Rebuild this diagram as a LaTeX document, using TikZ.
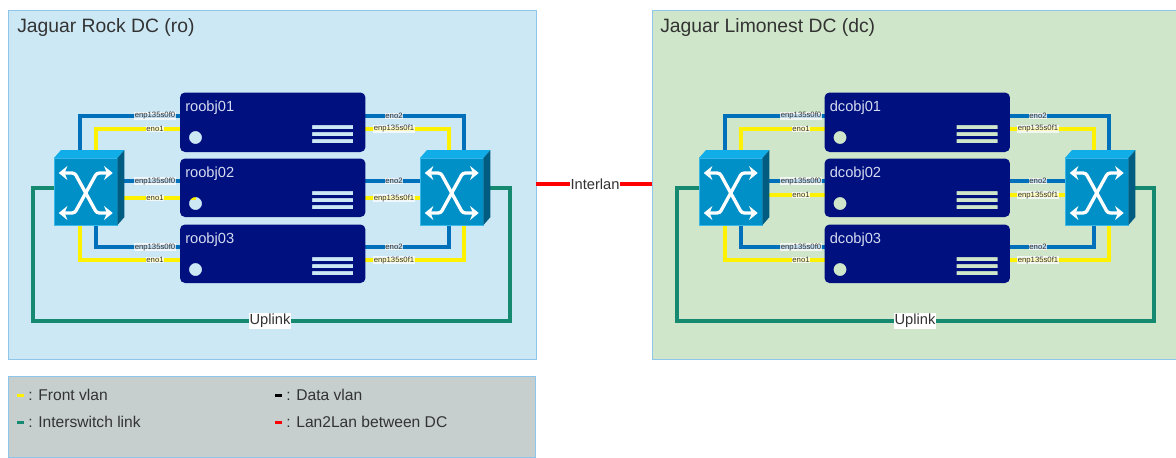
\documentclass[tikz,border=0pt]{standalone}
\usepackage{fontspec}
\setmainfont{Liberation Sans}
\usetikzlibrary{arrows.meta}
\definecolor{pnlA}{HTML}{CDE8F5}
\definecolor{pnlB}{HTML}{CFE6CA}
\definecolor{pnlBorder}{HTML}{8EC5EB}
\definecolor{lgdFill}{HTML}{C6CFCE}
\definecolor{srvFill}{HTML}{00107F}
\definecolor{srvText}{HTML}{D5DBEF}
\definecolor{swFront}{HTML}{0090C8}
\definecolor{swTop}{HTML}{10ADE8}
\definecolor{swSide}{HTML}{005C80}
\definecolor{swEdge}{HTML}{3CB8E8}
\definecolor{lnBlue}{HTML}{0070BA}
\definecolor{lnGreen}{HTML}{168A70}
\definecolor{txt}{HTML}{333333}
\pgfdeclarelayer{panels}
\pgfdeclarelayer{back}
\pgfsetlayers{panels,back,main}
\newcommand{\lgdash}[1]{{\color{#1}\rule[2.8pt]{5pt}{2pt}}}
\tikzset{
  panelbox/.style={draw=pnlBorder,line width=0.75pt,anchor=north west,inner sep=0pt,outer sep=0pt},
  title/.style={anchor=west,font=\fontsize{14.5pt}{16pt}\selectfont,text=txt,inner sep=0pt},
  srvbox/.style={anchor=north west,inner sep=0pt,outer sep=0pt,minimum width=139.1pt},
  srvname/.style={anchor=west,font=\fontsize{11pt}{13pt}\selectfont,text=srvText,inner sep=0pt},
  holemark/.style={circle,inner sep=0pt,outer sep=0pt,minimum size=9.75pt},
  swbox/.style={draw=swEdge,line width=0.5pt,fill=swFront,anchor=north west,inner sep=0pt,outer sep=0pt,minimum width=47.6pt,minimum height=50.25pt},
  swicon/.style={draw=white,line width=2.5pt,rounded corners=2pt,{Stealth[length=6.5pt,width=10.5pt]}-{Stealth[length=6.5pt,width=10.5pt]}},
  bluelink/.style={draw=lnBlue,line width=2.6pt},
  yellowlink/.style={draw=yellow,line width=2.6pt},
  greenlink/.style={draw=lnGreen,line width=2.6pt},
  redlink/.style={draw=red,line width=2.6pt},
  portlbl/.style={font=\fontsize{5.8pt}{6pt}\selectfont,text=txt,fill=white,fill opacity=0.75,text opacity=1,inner sep=0.4pt},
  linklbl/.style={font=\fontsize{11pt}{13pt}\selectfont,text=txt,fill=white,inner sep=0.6pt},
  legendtxt/.style={anchor=west,font=\fontsize{11.7pt}{13pt}\selectfont,text=txt,inner sep=0pt},
}
\newcommand{\srvunit}[5]{% name, label, x, ytop, height
  \node[srvbox,minimum height=#5*0.75pt] (#1) at (#3,#4) {};
  \fill[srvFill,even odd rule,rounded corners=3.75pt]
    (#1.north west) rectangle (#1.south east)
    [sharp corners]
    ([shift={(132,32.5)}]#1.north west) rectangle ++(41,4.2)
    ([shift={(132,39.5)}]#1.north west) rectangle ++(41,4.2)
    ([shift={(132,46.5)}]#1.north west) rectangle ++(41,4.2)
    ([shift={(15.5,45)}]#1.north west) circle[radius=6.5];
  \node[holemark] (#1hole) at ([shift={(15.5,45)}]#1.north west) {};
  \node[srvname] (#1name) at ([shift={(5,15)}]#1.north west) {#2};
}
\newcommand{\swunit}[2]{% name, x
  \node[swbox] (#1) at (#2,158) {};
  \fill[swTop] (#1.north west) -- ++(7,-8) -- ++(63.5,0) -- (#1.north east) -- cycle;
  \fill[swSide] (#1.north east) -- ++(7,-8) -- ++(0,67) -- (#1.south east) -- cycle;
  \begin{scope}[shift={(#1.center)}]
    \draw[swicon] (-27,-18.5) -- (-11,-18.5) -- (11,21.5) -- (27,21.5);
    \draw[swicon] (-27,21.5) -- (-11,21.5) -- (11,-18.5) -- (27,-18.5);
  \end{scope}
}
\begin{document}
\begin{tikzpicture}[x=0.75pt,y=-0.75pt]
\useasboundingbox (0,0) rectangle (1176,457);
\begin{pgfonlayer}{panels}
  \node[panelbox,fill=pnlA,minimum width=528*0.75pt,minimum height=349*0.75pt] (panelRo) at (8,10) {};
  \node[panelbox,fill=pnlB,minimum width=524*0.75pt,minimum height=349*0.75pt] (panelDc) at (652,10) {};
  \node[panelbox,fill=lgdFill,minimum width=527*0.75pt,minimum height=81*0.75pt] (panelLegend) at (8,376) {};
\end{pgfonlayer}
\node[title] (titleRo) at (17,27) {Jaguar Rock DC (ro)};
\node[title] (titleDc) at (660,27) {Jaguar Limonest DC (dc)};

% servers
\srvunit{roobj01}{roobj01}{180}{92.5}{59.5}
\srvunit{roobj02}{roobj02}{180}{158.5}{58.5}
\srvunit{roobj03}{roobj03}{180}{224.5}{58.5}
\srvunit{dcobj01}{dcobj01}{824.5}{92.5}{59.5}
\srvunit{dcobj02}{dcobj02}{824.5}{158.5}{58.5}
\srvunit{dcobj03}{dcobj03}{824.5}{224.5}{58.5}

% switches
\swunit{swRoL}{54}
\swunit{swRoR}{420}
\swunit{swDcL}{699}
\swunit{swDcR}{1065}

\begin{pgfonlayer}{back}
  % Rock, left switch
  \draw[bluelink] (swRoL.north -| 80,0) |- (roobj01.west |- 0,116);
  \draw[yellowlink] (swRoL.north -| 96,0) |- (roobj01.west |- 0,129);
  \draw[bluelink] (swRoL.east |- 0,181) -- (roobj02.west |- 0,181);
  \draw[yellowlink] (swRoL.east |- 0,198) -- (roobj02hole.center |- 0,198);
  \draw[yellowlink] (swRoL.south -| 80,0) |- (roobj03.west |- 0,260);
  \draw[bluelink] (swRoL.south -| 96,0) |- (roobj03.west |- 0,247);
  % Rock, right switch
  \draw[bluelink] (swRoR.north -| 464,0) |- (roobj01.east |- 0,116);
  \draw[yellowlink] (swRoR.north -| 449,0) |- (roobj01.east |- 0,129);
  \draw[bluelink] (swRoR.west |- 0,181) -- (roobj02.east |- 0,181);
  \draw[yellowlink] (swRoR.west |- 0,198) -- (roobj02.east |- 0,198);
  \draw[bluelink] (swRoR.south -| 449,0) |- (roobj03.east |- 0,247);
  \draw[yellowlink] (swRoR.south -| 464,0) |- (roobj03.east |- 0,260);
  % Limonest, left switch
  \draw[bluelink] (swDcL.north -| 725,0) |- (dcobj01.west |- 0,116);
  \draw[yellowlink] (swDcL.north -| 741,0) |- (dcobj01.west |- 0,129);
  \draw[bluelink] (swDcL.east |- 0,181) -- (dcobj02.west |- 0,181);
  \draw[yellowlink] (swDcL.east |- 0,195) -- (dcobj02hole.center |- 0,195);
  \draw[yellowlink] (swDcL.south -| 725,0) |- (dcobj03.west |- 0,260);
  \draw[bluelink] (swDcL.south -| 741,0) |- (dcobj03.west |- 0,247);
  % Limonest, right switch
  \draw[bluelink] (swDcR.north -| 1109,0) |- (dcobj01.east |- 0,116);
  \draw[yellowlink] (swDcR.north -| 1094,0) |- (dcobj01.east |- 0,129);
  \draw[bluelink] (swDcR.west |- 0,181) -- (dcobj02.east |- 0,181);
  \draw[yellowlink] (swDcR.west |- 0,195) -- (dcobj02.east |- 0,195);
  \draw[bluelink] (swDcR.south -| 1094,0) |- (dcobj03.east |- 0,247);
  \draw[yellowlink] (swDcR.south -| 1109,0) |- (dcobj03.east |- 0,260);
  % uplinks and interlan
  \draw[greenlink] (swRoL.west |- 0,188) -- (33,188) -- (33,321) -- (510,321) -- (510,188) -- (swRoR.east |- 0,188);
  \draw[greenlink] (swDcL.west |- 0,188) -- (677,188) -- (677,321) -- (1154,321) -- (1154,188) -- (swDcR.east |- 0,188);
  \draw[redlink] (panelRo.east |- 0,184) -- (panelDc.west |- 0,184);
\end{pgfonlayer}

% port labels
\foreach \xa/\xb/\ymid/\tag in {155/394/198/a,801/1038/195/b}{
  \node[portlbl] (pA\tag) at (\xa,116) {enp135s0f0};
  \node[portlbl] (pB\tag) at (\xa,129) {eno1};
  \node[portlbl] (pC\tag) at (\xa,181) {enp135s0f0};
  \node[portlbl] (pD\tag) at (\xa,\ymid) {eno1};
  \node[portlbl] (pE\tag) at (\xa,247) {enp135s0f0};
  \node[portlbl] (pF\tag) at (\xa,260) {eno1};
  \node[portlbl] (qA\tag) at (\xb,116) {eno2};
  \node[portlbl] (qB\tag) at (\xb,129) {enp135s0f1};
  \node[portlbl] (qC\tag) at (\xb,181) {eno2};
  \node[portlbl] (qD\tag) at (\xb,\ymid) {enp135s0f1};
  \node[portlbl] (qE\tag) at (\xb,247) {eno2};
  \node[portlbl] (qF\tag) at (\xb,260) {enp135s0f1};
}
\node[linklbl] (uplinkRo) at (270,321) {Uplink};
\node[linklbl] (uplinkDc) at (915,321) {Uplink};
\node[linklbl] (interlan) at (595,184) {Interlan};

% legend
\node[legendtxt] (lg1) at (17,395) {\lgdash{yellow} : Front vlan};
\node[legendtxt] (lg2) at (17,422) {\lgdash{lnGreen} : Interswitch link};
\node[legendtxt] (lg3) at (275,395) {\lgdash{black} : Data vlan};
\node[legendtxt] (lg4) at (275,422) {\lgdash{red} : Lan2Lan between DC};
\end{tikzpicture}
\end{document}
